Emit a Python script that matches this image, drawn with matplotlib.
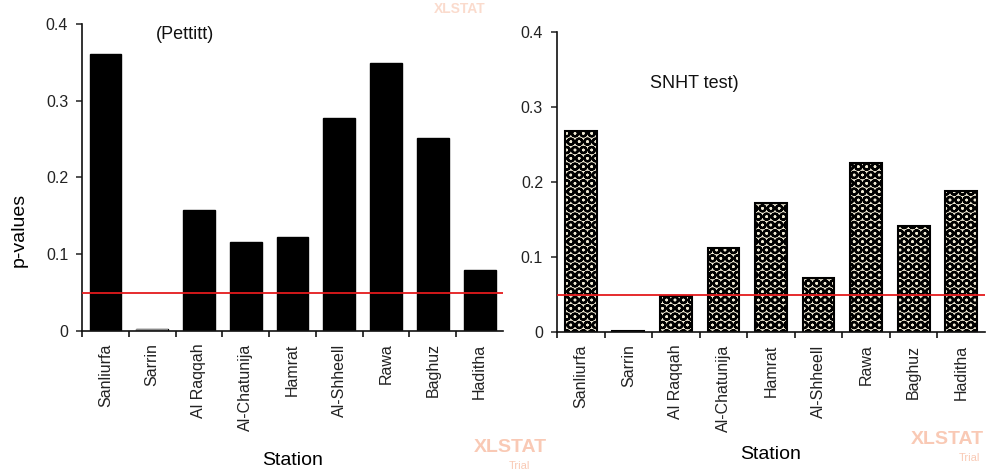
import matplotlib
matplotlib.use("Agg")
import matplotlib.pyplot as plt
import matplotlib.hatch
import numpy as np

stations = ["Sanliurfa", "Sarrin", "Al Raqqah", "Al-Chatunija", "Hamrat",
            "Al-Shheell", "Rawa", "Baghuz", "Haditha"]
pettitt = [0.361, 0.002, 0.157, 0.116, 0.123, 0.278, 0.349, 0.252, 0.079]
snht = [0.268, 0.002, 0.048, 0.112, 0.172, 0.072, 0.226, 0.141, 0.188]
alpha = 0.05
yticks = [0, 0.1, 0.2, 0.3, 0.4]
ytick_labels = ["0", "0.1", "0.2", "0.3", "0.4"]

plt.rcParams.update({
    "font.family": ["Liberation Sans", "DejaVu Sans"],
    "hatch.color": "#3f3f2a",
    "hatch.linewidth": 1.6,
})
# slightly bigger circles in the "O" hatch, closer to the Excel ball pattern
matplotlib.hatch.LargeCircles.size = 0.37

fig = plt.figure(figsize=(9.86, 4.75), dpi=100)
ax1 = fig.add_axes([0.0832, 0.3032, 0.4270, 0.6463])
ax2 = fig.add_axes([0.5649, 0.3010, 0.4341, 0.6316])

x = np.arange(len(stations))


def style(ax, xlabel_pad):
    for s in ["top", "right"]:
        ax.spines[s].set_visible(False)
    for s in ["left", "bottom"]:
        ax.spines[s].set_linewidth(1.2)
        ax.spines[s].set_color("#111111")
    ax.set_xlim(-0.5, len(stations) - 0.5)
    ax.set_ylim(0, 0.4)
    ax.set_yticks(yticks)
    ax.set_yticklabels(ytick_labels)
    ax.tick_params(axis="y", direction="out", length=4, width=1.1, pad=6,
                   labelsize=11.5, colors="#222222")
    # ticks at category boundaries, labels at centers
    ax.set_xticks(np.arange(len(stations)) - 0.5)
    ax.set_xticklabels([])
    ax.tick_params(axis="x", which="major", direction="out", length=4, width=1.1)
    ax.set_xticks(x, minor=True)
    ax.set_xticklabels(stations, minor=True, rotation=90, fontsize=11.5,
                       color="#222222")
    ax.tick_params(axis="x", which="minor", length=0, pad=9)
    ax.axhline(alpha, color="#e41a1c", lw=1.3, zorder=3)
    ax.set_xlabel("Station", fontsize=14, labelpad=xlabel_pad)


ax1.bar(x, pettitt, width=0.68, color="black", edgecolor="black", zorder=2)
ax1.bar(x[1], pettitt[1], width=0.68, color="#888888", zorder=2)
style(ax1, 15)
ax1.set_ylabel("p-values", fontsize=14)
ax1.yaxis.set_label_coords(-0.128, 0.33)
ax1.text(0.245, 0.386, "(Pettitt)", transform=ax1.get_yaxis_transform(),
         ha="center", va="center", fontsize=13, color="#111111")

ax2.bar(x, snht, width=0.67, color="#f0ead4", edgecolor="black", lw=1.5,
        hatch="OO", zorder=2)
style(ax2, 10)
ax2.text(0.32, 0.332, "SNHT test)", transform=ax2.get_yaxis_transform(),
         ha="center", va="center", fontsize=13, color="#111111")

# XLSTAT trial watermarks
wm = "#f7b89c"
fig.text(510 / 986, 1 - 448 / 475, "XLSTAT", ha="center", va="center",
         fontsize=14, fontweight="bold", color=wm, alpha=0.75)
fig.text(530 / 986, 1 - 466 / 475, "Trial", ha="right", va="center",
         fontsize=8, color=wm, alpha=0.75)
fig.text(947 / 986, 1 - 440 / 475, "XLSTAT", ha="center", va="center",
         fontsize=14, fontweight="bold", color=wm, alpha=0.75)
fig.text(980 / 986, 1 - 458 / 475, "Trial", ha="right", va="center",
         fontsize=8, color=wm, alpha=0.75)
fig.text(460 / 986, 1 - 9 / 475, "XLSTAT", ha="center", va="center",
         fontsize=10, fontweight="bold", color=wm, alpha=0.5)

fig.savefig("out.png", dpi=100)
